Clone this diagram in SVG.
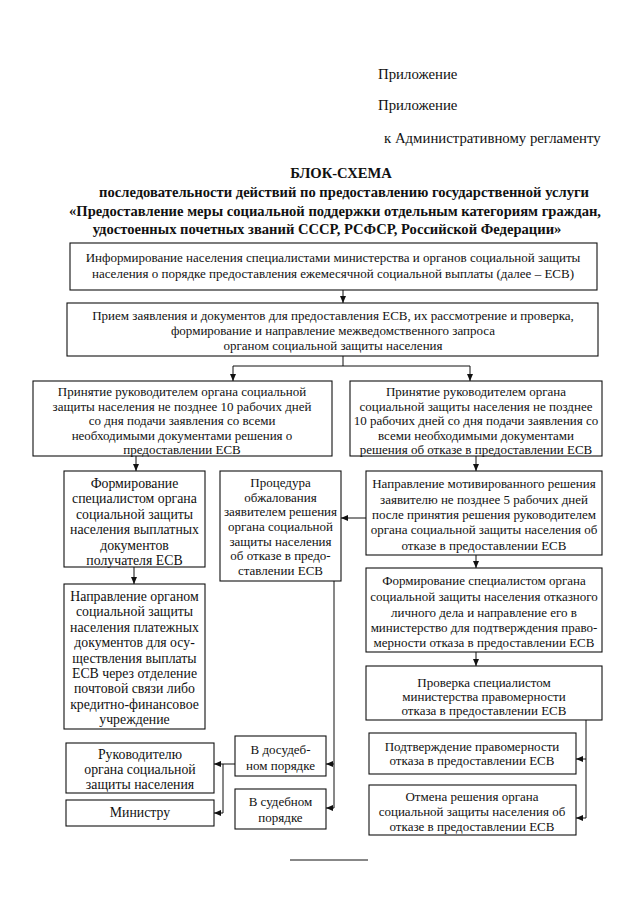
<svg xmlns="http://www.w3.org/2000/svg" width="640" height="905" viewBox="0 0 640 905">
<defs>
<marker id="ar" markerWidth="7" markerHeight="6" refX="7" refY="3" orient="auto" markerUnits="userSpaceOnUse">
<path d="M0,0 L7,3 L0,6 Z" fill="#111"/>
</marker>
<style>
.b{fill:#fff;stroke:#111;stroke-width:1.1}
.t{font-family:"Liberation Serif","Times New Roman",serif;font-size:13px;fill:#111;text-anchor:middle}
.n{font-size:13.8px}
.h{font-family:"Liberation Serif","Times New Roman",serif;font-size:14.8px;fill:#111}
.ti{font-family:"Liberation Serif","Times New Roman",serif;font-size:14.6px;font-weight:bold;fill:#111;text-anchor:middle}
.c{fill:none;stroke:#111;stroke-width:1}
</style>
</defs>
<rect width="640" height="905" fill="#fff"/>
<g id="header">
<text class="h" x="378" y="79">Приложение</text>
<text class="h" x="378" y="110">Приложение</text>
<text class="h" x="384" y="143">к Административному регламенту</text>
<text class="ti" x="341" y="178">БЛОК-СХЕМА</text>
<text class="ti" x="344" y="197">последовательности действий по предоставлению государственной услуги</text>
<text class="ti" x="335" y="216">«Предоставление меры социальной поддержки отдельным категориям граждан,</text>
<text class="ti" x="327" y="234">удостоенных почетных званий СССР, РСФСР, Российской Федерации»</text>
</g>
<g id="connectors">
<path class="c" d="M343,290 V303" marker-end="url(#ar)"/>
<path class="c" d="M343,356 V366 M233,366 H470"/>
<path class="c" d="M233,366 V381" marker-end="url(#ar)"/>
<path class="c" d="M470,366 V381" marker-end="url(#ar)"/>
<path class="c" d="M136,456 V471" marker-end="url(#ar)"/>
<path class="c" d="M476,456 V471" marker-end="url(#ar)"/>
<path class="c" d="M134,567 V584" marker-end="url(#ar)"/>
<path class="c" d="M366,518 H341" marker-end="url(#ar)"/>
<path class="c" d="M476,555 V568" marker-end="url(#ar)"/>
<path class="c" d="M476,652 V666" marker-end="url(#ar)"/>
<path class="c" d="M586,720 V818"/>
<path class="c" d="M586,759 H576" marker-end="url(#ar)"/>
<path class="c" d="M586,818 H576" marker-end="url(#ar)"/>
<path class="c" d="M334,581 V808"/>
<path class="c" d="M334,764 H326" marker-end="url(#ar)"/>
<path class="c" d="M334,808 H326" marker-end="url(#ar)"/>
<path class="c" d="M235,764 H214" marker-end="url(#ar)"/>
<path class="c" d="M223,764 V813 H214" marker-end="url(#ar)"/>
</g>
<g id="n1"><rect class="b" x="70" y="243" width="527" height="47"/>
<text class="t" x="333" y="262">Информирование населения специалистами министерства и органов социальной защиты</text>
<text class="t" x="333" y="278">населения о порядке предоставления ежемесячной социальной выплаты (далее – ЕСВ)</text></g>
<g id="n2"><rect class="b" x="67" y="303" width="531" height="53"/>
<text class="t" x="333" y="320">Прием заявления и документов для предоставления ЕСВ, их рассмотрение и проверка,</text>
<text class="t" x="333" y="335">формирование и направление межведомственного запроса</text>
<text class="t" x="333" y="350">органом социальной защиты населения</text></g>
<g id="n3"><rect class="b" x="33" y="381" width="299" height="75"/>
<text class="t" x="182" y="396">Принятие руководителем органа социальной</text>
<text class="t" x="182" y="411">защиты населения не позднее 10 рабочих дней</text>
<text class="t" x="182" y="425">со дня подачи заявления со всеми</text>
<text class="t" x="182" y="440">необходимыми  документами решения о</text>
<text class="t" x="182" y="454">предоставлении ЕСВ</text></g>
<g id="n4"><rect class="b" x="350" y="381" width="252" height="75"/>
<text class="t" x="476" y="396">Принятие руководителем органа</text>
<text class="t" x="476" y="411">социальной защиты населения не позднее</text>
<text class="t" x="476" y="425">10 рабочих дней со дня подачи заявления со</text>
<text class="t" x="476" y="440">всеми необходимыми документами</text>
<text class="t" x="476" y="454">решения об отказе в предоставлении ЕСВ</text></g>
<g id="n5"><rect class="b" x="64" y="471" width="141" height="96"/>
<text class="t n" x="134.5" y="488">Формирование</text>
<text class="t n" x="134.5" y="503">специалистом органа</text>
<text class="t n" x="134.5" y="519">социальной защиты</text>
<text class="t n" x="134.5" y="534">населения выплатных</text>
<text class="t n" x="134.5" y="550">документов</text>
<text class="t n" x="134.5" y="565">получателя ЕСВ</text></g>
<g id="n6"><rect class="b" x="220" y="471" width="121" height="110"/>
<text class="t" x="280.5" y="487">Процедура</text>
<text class="t" x="280.5" y="502">обжалования</text>
<text class="t" x="280.5" y="516">заявителем решения</text>
<text class="t" x="280.5" y="531">органа социальной</text>
<text class="t" x="280.5" y="546">защиты населения</text>
<text class="t" x="280.5" y="560">об отказе в предо-</text>
<text class="t" x="280.5" y="575">ставлении ЕСВ</text></g>
<g id="n7"><rect class="b" x="366" y="471" width="236" height="84"/>
<text class="t" x="484" y="488">Направление мотивированного решения</text>
<text class="t" x="484" y="504">заявителю не позднее 5 рабочих дней</text>
<text class="t" x="484" y="519">после принятия решения руководителем</text>
<text class="t" x="484" y="534">органа социальной защиты населения об</text>
<text class="t" x="484" y="550">отказе в предоставлении ЕСВ</text></g>
<g id="n8"><rect class="b" x="366" y="568" width="236" height="84"/>
<text class="t" x="484" y="585">Формирование специалистом органа</text>
<text class="t" x="484" y="601">социальной защиты населения отказного</text>
<text class="t" x="484" y="617">личного дела и направление его в</text>
<text class="t" x="484" y="632">министерство для подтверждения право-</text>
<text class="t" x="484" y="647">мерности отказа в предоставлении ЕСВ</text></g>
<g id="n9"><rect class="b" x="366" y="666" width="236" height="54"/>
<text class="t" x="484" y="687">Проверка специалистом</text>
<text class="t" x="484" y="701">министерства правомерности</text>
<text class="t" x="484" y="715">отказа в предоставлении ЕСВ</text></g>
<g id="n10"><rect class="b" x="369" y="733" width="207" height="41"/>
<text class="t" x="472" y="751">Подтверждение правомерности</text>
<text class="t" x="472" y="765">отказа в предоставлении ЕСВ</text></g>
<g id="n11"><rect class="b" x="369" y="785" width="207" height="50"/>
<text class="t" x="472" y="801">Отмена решения органа</text>
<text class="t" x="472" y="816">социальной защиты населения об</text>
<text class="t" x="472" y="831">отказе в предоставлении ЕСВ</text></g>
<g id="n12"><rect class="b" x="64" y="584" width="141" height="145"/>
<text class="t n" x="134.5" y="601">Направление органом</text>
<text class="t n" x="134.5" y="616">социальной защиты</text>
<text class="t n" x="134.5" y="632">населения платежных</text>
<text class="t n" x="134.5" y="647">документов для осу-</text>
<text class="t n" x="134.5" y="663">ществления выплаты</text>
<text class="t n" x="134.5" y="678">ЕСВ через отделение</text>
<text class="t n" x="134.5" y="693">почтовой связи либо</text>
<text class="t n" x="134.5" y="709">кредитно-финансовое</text>
<text class="t n" x="134.5" y="724">учреждение</text></g>
<g id="n13"><rect class="b" x="66" y="743" width="148" height="50"/>
<text class="t n" x="140" y="759">Руководителю</text>
<text class="t n" x="140" y="774">органа социальной</text>
<text class="t n" x="140" y="789">защиты населения</text></g>
<g id="n14"><rect class="b" x="66" y="800" width="148" height="26"/>
<text class="t n" x="140" y="817">Министру</text></g>
<g id="n15"><rect class="b" x="235" y="736" width="91" height="40"/>
<text class="t" x="280.5" y="754">В досудеб-</text>
<text class="t" x="280.5" y="770">ном порядке</text></g>
<g id="n16"><rect class="b" x="235" y="789" width="91" height="40"/>
<text class="t" x="280.5" y="806">В судебном</text>
<text class="t" x="280.5" y="822">порядке</text></g>
<g id="footer"><line x1="290" y1="860" x2="368" y2="860" stroke="#111" stroke-width="1"/></g>
</svg>
